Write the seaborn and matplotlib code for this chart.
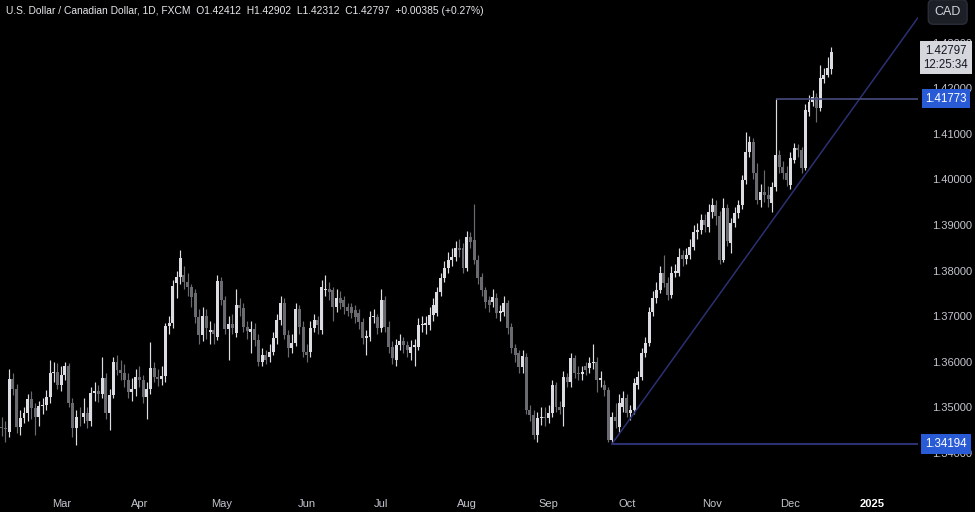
import matplotlib
matplotlib.use("Agg")
import matplotlib.pyplot as plt
import numpy as np
import pandas as pd
import seaborn as sns

# USD/CAD daily candles, 8 Feb 2024 - 17 Dec 2024
dates = pd.bdate_range("2024-02-08", "2024-12-17")

opens = [
    1.3458, 1.3455, 1.3447, 1.3562, 1.3540, 1.3457, 1.3477, 1.3488, 1.3518, 1.3499, 1.3480, 1.3502, 1.3506, 1.3523, 1.3575, 1.3578,
    1.3550, 1.3572, 1.3591, 1.3510, 1.3455, 1.3479, 1.3478, 1.3488, 1.3470, 1.3532, 1.3535, 1.3530, 1.3564, 1.3488, 1.3527, 1.3600, 1.3582, 1.3575, 1.3560, 1.3534, 1.3540,
    1.3567, 1.3560, 1.3523, 1.3540, 1.3586, 1.3567, 1.3562, 1.3569, 1.3678, 1.3685, 1.3773, 1.3786, 1.3790, 1.3775, 1.3765, 1.3751, 1.3698, 1.3659, 1.3700, 1.3665, 1.3670, 1.3655,
    1.3777, 1.3736, 1.3672, 1.3683, 1.3663, 1.3725, 1.3717, 1.3676, 1.3666, 1.3672, 1.3648, 1.3600, 1.3614, 1.3610, 1.3621, 1.3652, 1.3692, 1.3729, 1.3659, 1.3630, 1.3641, 1.3716, 1.3677,
    1.3621, 1.3621, 1.3674, 1.3692, 1.3670, 1.3757, 1.3760, 1.3757, 1.3720, 1.3740, 1.3735, 1.3720, 1.3720, 1.3714, 1.3707, 1.3687, 1.3652, 1.3654, 1.3698, 1.3698,
    1.3674, 1.3735, 1.3677, 1.3632, 1.3604, 1.3637, 1.3645, 1.3637, 1.3620, 1.3633, 1.3632, 1.3681, 1.3680, 1.3681, 1.3703, 1.3707, 1.3753, 1.3784, 1.3806, 1.3823, 1.3830, 1.3850, 1.3850,
    1.3806, 1.3874, 1.3867, 1.3823, 1.3786, 1.3757, 1.3735, 1.3731, 1.3740, 1.3707, 1.3709, 1.3729, 1.3677, 1.3630, 1.3619, 1.3589, 1.3611, 1.3494, 1.3483, 1.3439, 1.3477, 1.3480,
    1.3477, 1.3488, 1.3549, 1.3501, 1.3501, 1.3567, 1.3556, 1.3608, 1.3575, 1.3573, 1.3590, 1.3586, 1.3597, 1.3600, 1.3560, 1.3549, 1.3538, 1.3428, 1.3479, 1.3457, 1.3501,
    1.3520, 1.3488, 1.3494, 1.3549, 1.3567, 1.3619, 1.3641, 1.3709, 1.3740, 1.3757, 1.3795, 1.3773, 1.3746, 1.3795, 1.3795, 1.3834, 1.3825, 1.3834, 1.3852, 1.3885, 1.3889, 1.3911, 1.3896,
    1.3928, 1.3944, 1.3920, 1.3823, 1.3937, 1.3860, 1.3904, 1.3926, 1.3944, 1.3998, 1.4060, 1.4082, 1.4014, 1.3955, 1.3972, 1.3965, 1.3948, 1.3983, 1.4053, 1.4027, 1.4014,
    1.3988, 1.4043, 1.4069, 1.4064, 1.4025, 1.4148, 1.4170, 1.4181, 1.4157, 1.4220, 1.4229, 1.42412,
]

highs = [
    1.3480, 1.3470, 1.3584, 1.3575, 1.3551, 1.3495, 1.3500, 1.3530, 1.3535, 1.3510, 1.3515, 1.3520, 1.3538, 1.3604, 1.3600, 1.3598,
    1.3590, 1.3600, 1.3598, 1.3520, 1.3495, 1.3500, 1.3520, 1.3500, 1.3545, 1.3555, 1.3550, 1.3610, 1.3575, 1.3540, 1.3610, 1.3614, 1.3605, 1.3595, 1.3575, 1.3565, 1.3585,
    1.3590, 1.3572, 1.3555, 1.3643, 1.3600, 1.3585, 1.3590, 1.3685, 1.3700, 1.3780, 1.3800, 1.3845, 1.3810, 1.3795, 1.3770, 1.3760, 1.3715, 1.3720, 1.3715, 1.3690, 1.3685, 1.3790,
    1.3785, 1.3745, 1.3700, 1.3705, 1.3760, 1.3740, 1.3730, 1.3690, 1.3690, 1.3685, 1.3660, 1.3630, 1.3625, 1.3640, 1.3665, 1.3705, 1.3745, 1.3740, 1.3670, 1.3660, 1.3730, 1.3725, 1.3690,
    1.3640, 1.3690, 1.3705, 1.3700, 1.3780, 1.3790, 1.3775, 1.3765, 1.3760, 1.3755, 1.3745, 1.3730, 1.3728, 1.3725, 1.3715, 1.3695, 1.3670, 1.3712, 1.3715, 1.3705,
    1.3760, 1.3745, 1.3690, 1.3645, 1.3650, 1.3660, 1.3655, 1.3645, 1.3648, 1.3650, 1.3695, 1.3700, 1.3700, 1.3720, 1.3740, 1.3765, 1.3795, 1.3820, 1.3840, 1.3850, 1.3865, 1.3870, 1.3860,
    1.3887, 1.3885, 1.3946, 1.3835, 1.3795, 1.3765, 1.3745, 1.3760, 1.3750, 1.3725, 1.3745, 1.3735, 1.3685, 1.3640, 1.3625, 1.3625, 1.3620, 1.3505, 1.3495, 1.3490, 1.3500, 1.3500,
    1.3505, 1.3560, 1.3555, 1.3515, 1.3580, 1.3575, 1.3620, 1.3615, 1.3590, 1.3590, 1.3600, 1.3610, 1.3640, 1.3610, 1.3580, 1.3560, 1.3545, 1.3490, 1.3510, 1.3530, 1.3535,
    1.3530, 1.3505, 1.3565, 1.3580, 1.3630, 1.3655, 1.3720, 1.3755, 1.3775, 1.3810, 1.3835, 1.3785, 1.3810, 1.3815, 1.3850, 1.3845, 1.3850, 1.3870, 1.3900, 1.3905, 1.3925, 1.3925, 1.3945,
    1.3960, 1.3955, 1.3930, 1.3960, 1.3945, 1.3915, 1.3940, 1.3955, 1.4010, 1.4104, 1.4095, 1.4090, 1.4036, 1.3990, 1.4021, 1.3985, 1.3995, 1.41773, 1.4065, 1.4040, 1.4030,
    1.4060, 1.4080, 1.4078, 1.4072, 1.4165, 1.4185, 1.4195, 1.4190, 1.4250, 1.4245, 1.4268, 1.42902,
]

lows = [
    1.3437, 1.3425, 1.3435, 1.3528, 1.3444, 1.3440, 1.3465, 1.3470, 1.3475, 1.3440, 1.3460, 1.3485, 1.3495, 1.3510, 1.3555, 1.3540,
    1.3535, 1.3560, 1.3500, 1.3435, 1.3418, 1.3460, 1.3465, 1.3455, 1.3460, 1.3515, 1.3512, 1.3520, 1.3475, 1.3450, 1.3520, 1.3570, 1.3560, 1.3545, 1.3520, 1.3515, 1.3525,
    1.3545, 1.3510, 1.3474, 1.3530, 1.3555, 1.3548, 1.3550, 1.3555, 1.3660, 1.3675, 1.3740, 1.3770, 1.3760, 1.3745, 1.3720, 1.3685, 1.3640, 1.3645, 1.3650, 1.3640, 1.3640, 1.3648,
    1.3725, 1.3660, 1.3605, 1.3660, 1.3655, 1.3700, 1.3665, 1.3650, 1.3620, 1.3635, 1.3590, 1.3590, 1.3595, 1.3600, 1.3615, 1.3640, 1.3680, 1.3650, 1.3610, 1.3620, 1.3635, 1.3660, 1.3610,
    1.3600, 1.3610, 1.3665, 1.3662, 1.3660, 1.3745, 1.3735, 1.3690, 1.3710, 1.3715, 1.3705, 1.3700, 1.3695, 1.3685, 1.3672, 1.3640, 1.3615, 1.3645, 1.3685, 1.3660,
    1.3665, 1.3665, 1.3620, 1.3595, 1.3590, 1.3625, 1.3620, 1.3610, 1.3605, 1.3590, 1.3625, 1.3665, 1.3660, 1.3670, 1.3690, 1.3700, 1.3745, 1.3775, 1.3795, 1.3810, 1.3820, 1.3830, 1.3795,
    1.3800, 1.3850, 1.3815, 1.3770, 1.3745, 1.3718, 1.3710, 1.3720, 1.3695, 1.3690, 1.3700, 1.3660, 1.3620, 1.3600, 1.3575, 1.3575, 1.3485, 1.3470, 1.3430, 1.3425, 1.3462, 1.3460,
    1.3465, 1.3480, 1.3490, 1.3485, 1.3460, 1.3545, 1.3545, 1.3565, 1.3560, 1.3560, 1.3570, 1.3575, 1.3585, 1.3534, 1.3545, 1.3525, 1.3425, 1.34194, 1.3455, 1.3445, 1.3490,
    1.3478, 1.3472, 1.3485, 1.3540, 1.3560, 1.3610, 1.3635, 1.3700, 1.3730, 1.3750, 1.3765, 1.3735, 1.3740, 1.3785, 1.3788, 1.3810, 1.3815, 1.3825, 1.3845, 1.3870, 1.3880, 1.3885, 1.3885,
    1.3915, 1.3900, 1.3815, 1.3818, 1.3855, 1.3839, 1.3895, 1.3915, 1.3935, 1.3990, 1.4050, 1.4000, 1.3945, 1.3940, 1.3950, 1.3940, 1.3928, 1.3975, 1.4015, 1.4000, 1.3985,
    1.3980, 1.4035, 1.4050, 1.4015, 1.4020, 1.4140, 1.4160, 1.4125, 1.4150, 1.4212, 1.4225, 1.42312,
]

closes = [
    1.3455, 1.3452, 1.3562, 1.3540, 1.3457, 1.3477, 1.3488, 1.3518, 1.3499, 1.3480, 1.3502, 1.3506, 1.3523, 1.3575, 1.3578, 1.3550,
    1.3572, 1.3591, 1.3510, 1.3455, 1.3479, 1.3478, 1.3488, 1.3470, 1.3532, 1.3535, 1.3530, 1.3564, 1.3488, 1.3527, 1.3600, 1.3582, 1.3575, 1.3560, 1.3534, 1.3540, 1.3567,
    1.3560, 1.3523, 1.3540, 1.3586, 1.3567, 1.3562, 1.3569, 1.3678, 1.3685, 1.3766, 1.3786, 1.3828, 1.3775, 1.3765, 1.3742, 1.3698, 1.3659, 1.3700, 1.3675, 1.3670, 1.3662, 1.3777,
    1.3736, 1.3672, 1.3683, 1.3675, 1.3725, 1.3717, 1.3676, 1.3668, 1.3672, 1.3648, 1.3600, 1.3614, 1.3605, 1.3621, 1.3652, 1.3692, 1.3729, 1.3659, 1.3630, 1.3641, 1.3716, 1.3677, 1.3621,
    1.3615, 1.3674, 1.3692, 1.3680, 1.3764, 1.3760, 1.3752, 1.3720, 1.3740, 1.3730, 1.3720, 1.3712, 1.3707, 1.3698, 1.3687, 1.3652, 1.3657, 1.3698, 1.3700, 1.3674,
    1.3735, 1.3677, 1.3632, 1.3608, 1.3637, 1.3645, 1.3637, 1.3625, 1.3633, 1.3637, 1.3681, 1.3683, 1.3685, 1.3703, 1.3725, 1.3753, 1.3784, 1.3806, 1.3823, 1.3830, 1.3850, 1.3845, 1.3806,
    1.3874, 1.3862, 1.3823, 1.3784, 1.3757, 1.3731, 1.3725, 1.3742, 1.3707, 1.3712, 1.3729, 1.3674, 1.3630, 1.3615, 1.3589, 1.3613, 1.3494, 1.3483, 1.3439, 1.3477, 1.3480, 1.3477,
    1.3488, 1.3549, 1.3501, 1.3495, 1.3567, 1.3556, 1.3608, 1.3575, 1.3573, 1.3577, 1.3582, 1.3597, 1.3600, 1.3560, 1.3565, 1.3538, 1.3428, 1.3479, 1.3470, 1.3510, 1.3520,
    1.3488, 1.3494, 1.3553, 1.3567, 1.3619, 1.3641, 1.3709, 1.3740, 1.3757, 1.3795, 1.3773, 1.3746, 1.3795, 1.3800, 1.3830, 1.3825, 1.3834, 1.3852, 1.3885, 1.3889, 1.3911, 1.3900, 1.3928,
    1.3944, 1.3920, 1.3823, 1.3937, 1.3865, 1.3904, 1.3926, 1.3944, 1.3998, 1.4060, 1.4082, 1.4014, 1.3955, 1.3972, 1.3965, 1.3958, 1.3983, 1.4053, 1.4027, 1.4014, 1.3999,
    1.4047, 1.4069, 1.4064, 1.4025, 1.4152, 1.4170, 1.4181, 1.4157, 1.4222, 1.4229, 1.4244, 1.42797,
]

# drawn levels
swing_low_date = "2024-09-25"
swing_low = 1.34194
spike_date = "2024-11-26"
spike_high = 1.41773
trend_end_date = "2024-12-17"
trend_end_price = 1.4090
last_price = 1.42797
countdown = "12:25:34"
title = ("U.S. Dollar / Canadian Dollar, 1D, FXCM  O1.42412  H1.42902  "
         "L1.42312  C1.42797  +0.00385 (+0.27%)")
price_ticks = [1.34, 1.35, 1.36, 1.37, 1.38, 1.39, 1.40, 1.41, 1.42, 1.43]

UP = "#dcdde2"
DOWN = "#6a6b71"
NAVY = "#2c3072"
LEVEL = "#474b7c"
BLUE = "#2a5bd7"
TXT = "#c3c6ce"

df = pd.DataFrame({"date": dates, "open": opens, "high": highs, "low": lows, "close": closes})
df["pos"] = np.arange(len(df))
df["up"] = df["close"] >= df["open"]
df["color"] = np.where(df["up"], UP, DOWN)
df["body_lo"] = df[["open", "close"]].min(axis=1)
df["body_h"] = (df["close"] - df["open"]).abs().clip(lower=0.00009)

sns.set_theme(style="dark", rc={
    "axes.facecolor": "black",
    "figure.facecolor": "black",
    "axes.edgecolor": "black",
    "axes.grid": False,
})
plt.rcParams["font.family"] = ["Liberation Sans", "DejaVu Sans"]

fig = plt.figure(figsize=(9.75, 5.12), dpi=100)
ax = fig.add_axes([0, 28 / 512, 918 / 975, 484 / 512])
for s in ax.spines.values():
    s.set_visible(False)

ax.vlines(df["pos"], df["low"], df["high"], colors=df["color"], linewidth=0.85, zorder=2)
ax.bar(df["pos"], df["body_h"], bottom=df["body_lo"], width=0.8, color=df["color"],
       linewidth=0, zorder=3)

x_left, x_right = -0.45, 246.3
ax.set_xlim(x_left, x_right)
ax.set_ylim(1.3332, 1.43934)

pos_of = dict(zip(df["date"], df["pos"]))
p0 = pos_of[pd.Timestamp(swing_low_date)]
p1 = pos_of[pd.Timestamp(trend_end_date)]
slope = (trend_end_price - swing_low) / (p1 - p0)
trend = pd.DataFrame({"x": [p0, x_right], "y": [swing_low, swing_low + slope * (x_right - p0)]})
sns.lineplot(data=trend, x="x", y="y", ax=ax, color=NAVY, linewidth=1.1, zorder=4)

ax.hlines(swing_low, p0, x_right, color=NAVY, linewidth=1.5, zorder=4)
ps = pos_of[pd.Timestamp(spike_date)]
ax.hlines(spike_high, ps, x_right, color=LEVEL, linewidth=1.2, zorder=4)

# month labels along the bottom
ext = pd.bdate_range("2024-02-08", "2025-01-31")
month_pos, month_lab = [], []
for i in range(1, len(ext)):
    if ext[i].month != ext[i - 1].month:
        month_pos.append(i)
        month_lab.append("2025" if ext[i].month == 1 else ext[i].strftime("%b"))
ax.set_xticks(month_pos)
ax.set_xticklabels(month_lab)
ax.tick_params(axis="x", length=0, pad=11, labelsize=8, labelcolor=TXT)
for t in ax.get_xticklabels():
    if t.get_text() == "2025":
        t.set_fontweight("bold")
        t.set_color("white")

ax.yaxis.tick_right()
ax.set_yticks(price_ticks)
ax.set_yticklabels([f"{v:.5f}" for v in price_ticks])
ax.tick_params(axis="y", length=0, pad=10, labelsize=8, labelcolor=TXT)
ax.set_xlabel("")
ax.set_ylabel("")

ytr = ax.get_yaxis_transform()
xc = 946 / 918
for val in (spike_high, swing_low):
    ax.text(xc, val, f"{val:.5f}", transform=ytr, ha="center", va="center",
            fontsize=8.3, color="white", zorder=10, clip_on=False,
            bbox=dict(boxstyle="square,pad=0.32", fc=BLUE, ec="none"))
ax.text(xc, last_price + 0.0015, f"{last_price:.5f}\n{countdown}", transform=ytr,
        ha="center", va="top", fontsize=8.3, color="#131722", linespacing=1.2,
        zorder=10, clip_on=False, multialignment="center",
        bbox=dict(boxstyle="square,pad=0.32", fc="#d6d7dc", ec="none"))

fig.text(0.006, 1 - 11 / 512, title, ha="left", va="center", fontsize=7.4, color="#e6e7ea")
fig.text(0.972, 1 - 12 / 512, "CAD", ha="center", va="center", fontsize=9, color="#d1d4dc",
         bbox=dict(boxstyle="round,pad=0.5,rounding_size=0.4", fc="#1c1f26", ec="#2a2e39"))

fig.savefig("out.png", dpi=100, facecolor="black")
